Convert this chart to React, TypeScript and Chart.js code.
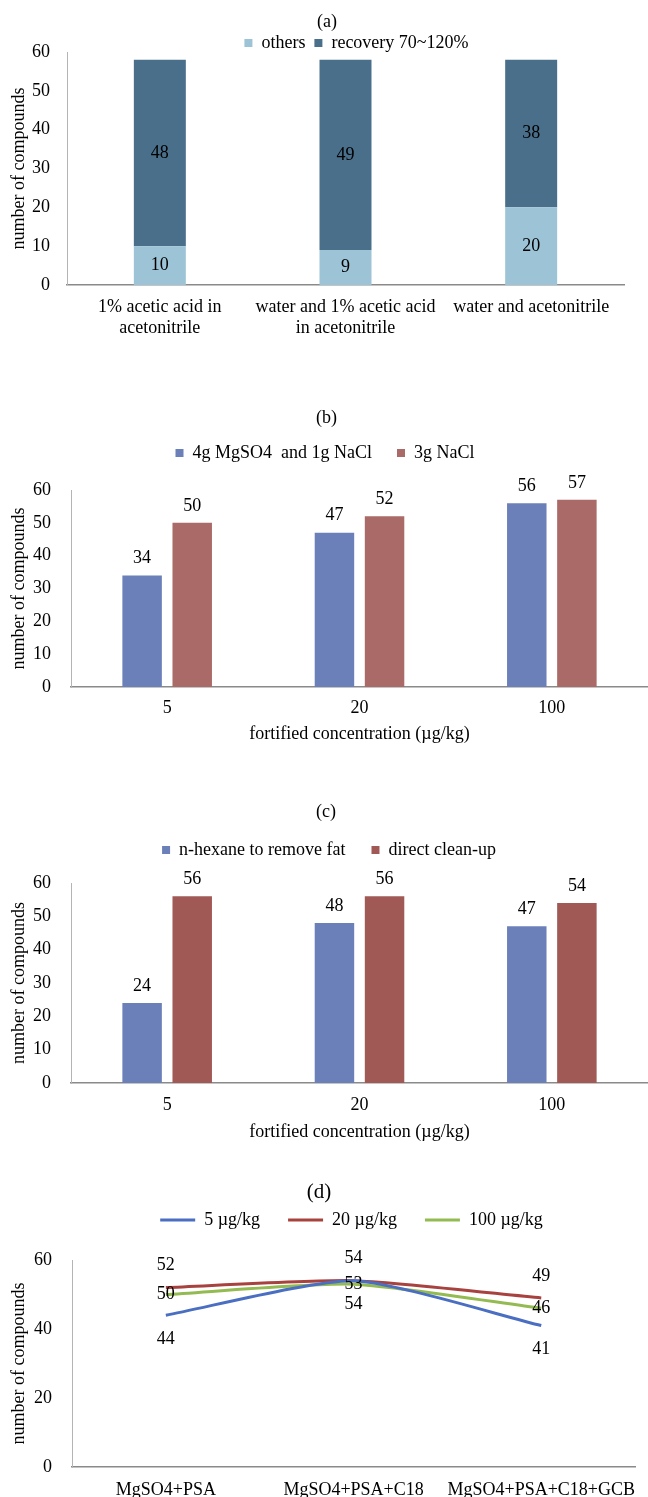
import React, { useEffect, useRef } from 'react';
import { Chart, registerables } from 'chart.js';

Chart.register(...registerables);

const FONT = "'Liberation Serif', 'Times New Roman', Times, serif";
Chart.defaults.font.family = FONT;
Chart.defaults.color = '#000';

// ---------- (a) ----------
const aCategories = [
  ['1% acetic acid in', 'acetonitrile'],
  ['water and 1% acetic acid', 'in acetonitrile'],
  'water and acetonitrile',
];
const aLegend = ['others', 'recovery 70~120%'];
const aOthers = [10, 9, 20];
const aRecovery = [48, 49, 38];

// ---------- (b) ----------
const bCategories = ['5', '20', '100'];
const bLegend = ['4g MgSO4  and 1g NaCl', '3g NaCl'];
const bMgSO4NaCl = [34, 47, 56];
const bNaCl = [50, 52, 57];

// ---------- (c) ----------
const cCategories = ['5', '20', '100'];
const cLegend = ['n-hexane to remove fat', 'direct clean-up'];
const cHexane = [24, 48, 47];
const cDirect = [56, 56, 54];

// ---------- (d) ----------
const dCategories = ['MgSO4+PSA', 'MgSO4+PSA+C18', 'MgSO4+PSA+C18+GCB'];
const dLegend = ['5 \u00b5g/kg', '20 \u00b5g/kg', '100 \u00b5g/kg'];
const d5 = [44, 54, 41];
const d20 = [52, 54, 49];
const d100 = [50, 53, 46];

const yTitle = 'number of compounds';
const xTitle = 'fortified concentration (\u00b5g/kg)';

function adjustPlugin(p: { titleDx: number; legendDx: number; legendDy: number; legendGap: number }) {
  return {
    id: 'adjustBoxes',
    beforeInit(chart: any) {
      const legend = chart.legend;
      if (legend) {
        const orig = legend.fit;
        legend.fit = function () {
          orig.call(this);
          this.height += p.legendGap;
        };
      }
    },
    afterLayout(chart: any) {
      const t = chart.titleBlock;
      if (t) {
        t.left += p.titleDx;
        t.right += p.titleDx;
      }
      const l = chart.legend;
      if (l) {
        l.left += p.legendDx;
        l.right += p.legendDx;
        l.top += p.legendDy;
        l.bottom += p.legendDy + 40; // avoid clipping the legend text
      }
    },
  };
}

function valueLabelPlugin(offsets: Array<number | 'mid'>) {
  return {
    id: 'valueLabels',
    afterDatasetsDraw(chart: any) {
      const ctx = chart.ctx;
      ctx.save();
      ctx.font = `18px ${FONT}`;
      ctx.fillStyle = '#000';
      ctx.textAlign = 'center';
      ctx.textBaseline = 'middle';
      chart.data.datasets.forEach((ds: any, i: number) => {
        const meta = chart.getDatasetMeta(i);
        const off = offsets[i];
        meta.data.forEach((el: any, j: number) => {
          const y = off === 'mid' ? (el.y + el.base) / 2 : el.y + off;
          ctx.fillText(String(ds.data[j]), el.x, y);
        });
      });
      ctx.restore();
    },
  };
}

function yScale(width: number, tickPad: number, step: number, stacked = false) {
  return {
    stacked,
    min: 0,
    max: 60,
    ticks: { stepSize: step, padding: tickPad, color: '#000', font: { size: 18, family: FONT } },
    grid: { display: false, drawTicks: false },
    border: { display: true, color: '#b4b4b4', width: 1 },
    title: {
      display: true,
      text: yTitle,
      color: '#000',
      font: { size: 18, family: FONT, lineHeight: 1.2 },
      padding: { top: 8, bottom: 0 },
    },
    afterFit(scale: any) {
      scale.width = width;
    },
  };
}

function xScale(tickPad: number, title: { text: string; padTop: number } | null, stacked = false) {
  return {
    stacked,
    ticks: {
      padding: tickPad,
      color: '#000',
      maxRotation: 0,
      minRotation: 0,
      autoSkip: false,
      font: { size: 18, family: FONT, lineHeight: 1.17 },
    },
    grid: { display: false, drawTicks: false },
    border: { display: true, color: '#8a8a8a', width: 1.5 },
    title: title
      ? {
          display: true,
          text: title.text,
          color: '#000',
          font: { size: 18, family: FONT, lineHeight: 1.2 },
          padding: { top: title.padTop, bottom: 0 },
        }
      : { display: false },
  };
}

function titleOpt(text: string, padTop: number, size = 18) {
  return {
    display: true,
    text,
    color: '#000',
    font: { size, family: FONT, weight: 'normal' as const, lineHeight: 1.2 },
    padding: { top: padTop, bottom: 0 },
  };
}

function barLegend(pad: number) {
  return {
    display: true,
    position: 'top' as const,
    labels: { color: '#000', font: { size: 18, family: FONT }, boxWidth: 8, boxHeight: 8, padding: pad },
  };
}

function makeA() {
  return {
    type: 'bar',
    data: {
      labels: aCategories,
      datasets: [
        { label: aLegend[0], data: aOthers, backgroundColor: '#9DC3D6', borderWidth: 0 },
        { label: aLegend[1], data: aRecovery, backgroundColor: '#4A6F8A', borderWidth: 0 },
      ],
    },
    options: {
      responsive: false,
      maintainAspectRatio: false,
      animation: false,
      layout: { padding: { left: 0, right: 24, top: 0, bottom: 9.9 } },
      datasets: { bar: { categoryPercentage: 0.28, barPercentage: 1 } },
      scales: {
        x: xScale(11.5, null, true),
        y: yScale(67, 17, 10, true),
      },
      plugins: {
        title: titleOpt('(a)', 11.2),
        legend: barLegend(9),
        tooltip: { enabled: false },
      },
    },
    plugins: [
      adjustPlugin({ titleDx: 15, legendDx: 44.5, legendDy: -7.8, legendGap: -17.8 }),
      valueLabelPlugin(['mid', 'mid']),
    ],
  };
}

function makeGrouped(
  title: string,
  cats: string[],
  legend: string[],
  s1: number[],
  s2: number[],
  c1: string,
  c2: string,
  g: { titlePad: number; legendPad: number; gap: number; dy: number; tdx: number; ldx: number; tickPad: number; xtPad: number; pb: number }
) {
  return {
    type: 'bar',
    data: {
      labels: cats,
      datasets: [
        { label: legend[0], data: s1, backgroundColor: c1, borderWidth: 0 },
        { label: legend[1], data: s2, backgroundColor: c2, borderWidth: 0 },
      ],
    },
    options: {
      responsive: false,
      maintainAspectRatio: false,
      animation: false,
      layout: { padding: { left: 0, right: 0, top: 0, bottom: g.pb } },
      datasets: { bar: { categoryPercentage: 0.521, barPercentage: 0.788 } },
      scales: {
        x: xScale(g.tickPad, { text: xTitle, padTop: g.xtPad }),
        y: yScale(71, 20, 10),
      },
      plugins: {
        title: titleOpt(title, g.titlePad),
        legend: barLegend(g.legendPad),
        tooltip: { enabled: false },
      },
    },
    plugins: [
      adjustPlugin({ titleDx: g.tdx, legendDx: g.ldx, legendDy: g.dy, legendGap: g.gap }),
      valueLabelPlugin([-17, -17]),
    ],
  };
}

function makeB() {
  return makeGrouped('(b)', bCategories, bLegend, bMgSO4NaCl, bNaCl, '#6B80B9', '#AA6A67', {
    titlePad: 47.2,
    legendPad: 25,
    gap: 8.2,
    dy: -9.8,
    tdx: 2.5,
    ldx: 1,
    tickPad: 10.5,
    xtPad: -5.9,
    pb: 15.2,
  });
}

function makeC() {
  return makeGrouped('(c)', cCategories, cLegend, cHexane, cDirect, '#6B80B9', '#A15956', {
    titlePad: 41.2,
    legendPad: 26,
    gap: 6.2,
    dy: -7.8,
    tdx: 2,
    ldx: 5,
    tickPad: 11.5,
    xtPad: -5.9,
    pb: 17.2,
  });
}

function lineDs(label: string, data: number[], color: string) {
  return {
    label,
    data,
    borderColor: color,
    backgroundColor: color,
    borderWidth: 3,
    pointRadius: 0,
    pointHoverRadius: 0,
    pointBorderWidth: 3,
    pointBorderColor: color,
    tension: 0.2,
    fill: false,
  };
}

function makeD() {
  return {
    type: 'line',
    data: {
      labels: dCategories,
      datasets: [
        lineDs(dLegend[0], d5, '#4A6FC2'),
        lineDs(dLegend[1], d20, '#A8423F'),
        lineDs(dLegend[2], d100, '#94BB52'),
      ],
    },
    options: {
      responsive: false,
      maintainAspectRatio: false,
      animation: false,
      layout: { padding: { left: 0, right: 3, top: 0, bottom: 6.9 } },
      scales: {
        x: { ...xScale(12.5, null), offset: true },
        y: yScale(72, 20, 20),
      },
      plugins: {
        title: titleOpt('(d)', 19.4, 21),
        legend: {
          display: true,
          position: 'top' as const,
          labels: {
            color: '#000',
            font: { size: 18, family: FONT },
            usePointStyle: true,
            pointStyle: 'line',
            pointStyleWidth: 35,
            boxHeight: 8,
            padding: 28,
          },
        },
        tooltip: { enabled: false },
      },
    },
    plugins: [
      adjustPlugin({ titleDx: -3.5, legendDx: 29, legendDy: -21.6, legendGap: -0.6 }),
      valueLabelPlugin([24, -22, 0]),
    ],
  };
}

function ChartBox({ top, height, make }: { top: number; height: number; make: () => any }) {
  const ref = useRef<HTMLCanvasElement>(null);
  useEffect(() => {
    const chart = new Chart(ref.current as HTMLCanvasElement, make());
    return () => chart.destroy();
  }, []);
  return (
    <canvas
      ref={ref}
      width={648}
      height={height}
      style={{ position: 'absolute', left: 0, top, width: 648, height, display: 'block' }}
    />
  );
}

export default function App() {
  return (
    <div
      style={{
        position: 'absolute',
        left: 0,
        top: 0,
        width: 648,
        height: 1497,
        overflow: 'hidden',
        background: '#fff',
      }}
    >
      <ChartBox top={0} height={360} make={makeA} />
      <ChartBox top={360} height={400} make={makeB} />
      <ChartBox top={760} height={400} make={makeC} />
      <ChartBox top={1160} height={360} make={makeD} />
    </div>
  );
}
